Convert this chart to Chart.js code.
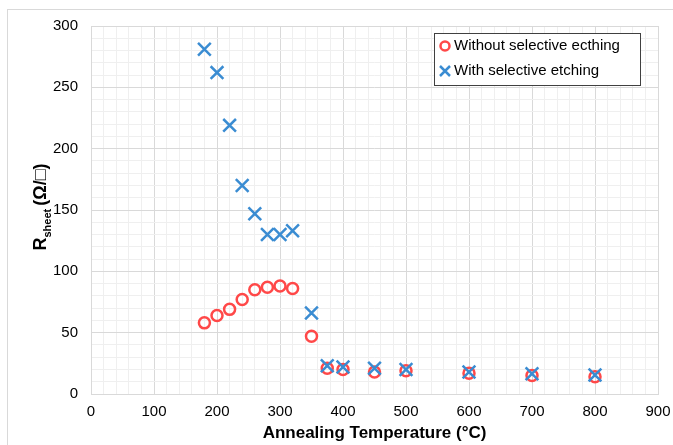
<!DOCTYPE html>
<html>
<head>
<meta charset="utf-8">
<script src="https://cdn.jsdelivr.net/npm/chart.js@4"></script>
<style>
  html, body { margin: 0; padding: 0; background: #fff; }
  #wrap { width: 673px; height: 445px; position: relative; }
</style>
</head>
<body>
<div id="wrap"><canvas id="chart" width="673" height="445"></canvas></div>
<script>
    'use strict';

    // annealing temperature (°C)
    var tempWithout = [180, 200, 220, 240, 260, 280, 300, 320, 350, 375, 400, 450, 500, 600, 700, 800];
    var rsheetWithout = [58, 64, 69, 77, 85, 87, 88, 86, 47, 21, 20, 18, 19, 17, 15, 14];

    var tempWith = [180, 200, 220, 240, 260, 280, 300, 320, 350, 375, 400, 450, 500, 600, 700, 800];
    var rsheetWith = [281, 262, 219, 170, 147, 130, 130, 133, 66, 23, 22, 21, 20, 18, 16.5, 15.5];

    var legendLabels = ['Without selective ecthing', 'With selective etching'];

    var red = 'rgb(255, 72, 72)';
    var blue = 'rgb(58, 140, 210)';
    var font = '"Liberation Sans", Arial, sans-serif';

    function toPoints(xs, ys) {
        return xs.map(function (x, i) { return { x: x, y: ys[i] }; });
    }

    var chartFrame = {
        id: 'chartFrame',
        beforeDraw: function (chart) {
            var ctx = chart.ctx;
            ctx.save();
            ctx.fillStyle = '#fff';
            ctx.fillRect(0, 0, chart.width, chart.height);
            ctx.strokeStyle = '#d9d9d9';
            ctx.lineWidth = 1;
            ctx.strokeRect(7.5, 9.5, chart.width + 10, chart.height + 10);
            ctx.restore();
        },
        afterDatasetsDraw: function (chart) {
            var ctx = chart.ctx;
            var a = chart.chartArea;
            ctx.save();
            // plot area border
            ctx.strokeStyle = '#d9d9d9';
            ctx.lineWidth = 1;
            ctx.strokeRect(Math.round(a.left) + 0.5, Math.round(a.top) + 0.5,
                Math.round(a.right - a.left), Math.round(a.bottom - a.top));

            // y axis title with subscript
            ctx.translate(46, 207);
            ctx.rotate(-Math.PI / 2);
            ctx.fillStyle = '#000';
            ctx.textBaseline = 'alphabetic';
            var big = 'bold 18px ' + font;
            var small = 'bold 11px ' + font;
            ctx.font = big;
            var w1 = ctx.measureText('R').width;
            var w3 = ctx.measureText('(Ω/□)').width;
            ctx.font = small;
            var w2 = ctx.measureText('sheet').width;
            var total = w1 + w2 + 3 + w3;
            var x = -total / 2;
            ctx.font = big;
            ctx.fillText('R', x, 0);
            x += w1;
            ctx.font = small;
            ctx.fillText('sheet', x, 5);
            x += w2 + 3;
            ctx.font = big;
            ctx.fillText('(Ω/□)', x, 0);
            ctx.restore();

            // legend box
            ctx.save();
            ctx.fillStyle = '#fff';
            ctx.fillRect(434.5, 33.5, 206, 52);
            ctx.strokeStyle = '#404040';
            ctx.lineWidth = 1;
            ctx.strokeRect(434.5, 33.5, 206, 52);
            ctx.font = '15px ' + font;
            ctx.fillStyle = '#000';
            ctx.textBaseline = 'middle';
            ctx.fillText(legendLabels[0], 454, 46);
            ctx.fillText(legendLabels[1], 454, 71);
            ctx.lineWidth = 2.5;
            ctx.strokeStyle = red;
            ctx.beginPath();
            ctx.arc(445, 46, 4.5, 0, Math.PI * 2);
            ctx.stroke();
            ctx.strokeStyle = blue;
            ctx.beginPath();
            ctx.moveTo(440, 66); ctx.lineTo(450, 76);
            ctx.moveTo(450, 66); ctx.lineTo(440, 76);
            ctx.stroke();
            ctx.restore();
        }
    };

    function gridColor(major) {
        return function (c) {
            return (c.tick && c.tick.value % major === 0) ? '#d9d9d9' : '#efefef';
        };
    }

    var ctx = document.getElementById('chart');
    var chart = new Chart(ctx, {
        type: 'scatter',
        data: {
            datasets: [
                {
                    label: legendLabels[1],
                    data: toPoints(tempWith, rsheetWith),
                    pointStyle: 'crossRot',
                    pointRadius: 9,
                    pointBorderWidth: 2.5,
                    borderColor: blue,
                    backgroundColor: blue,
                    order: 0
                },
                {
                    label: legendLabels[0],
                    data: toPoints(tempWithout, rsheetWithout),
                    pointStyle: 'circle',
                    pointRadius: 5.5,
                    pointBorderWidth: 2.5,
                    borderColor: red,
                    backgroundColor: 'rgba(255,255,255,0)',
                    order: 1
                }
            ]
        },
        options: {
            responsive: false,
            animation: false,
            layout: { padding: { left: 0, right: 15, top: 26, bottom: 0 } },
            plugins: {
                legend: { display: false },
                tooltip: { enabled: false }
            },
            scales: {
                x: {
                    type: 'linear',
                    min: 0,
                    max: 900,
                    afterFit: function (s) {
                        s.height = 51;
                        s.paddingRight = 0;
                        s.paddingLeft = 0;
                    },
                    border: { display: false },
                    grid: { color: gridColor(100), drawTicks: false },
                    ticks: {
                        stepSize: 20,
                        autoSkip: false,
                        maxRotation: 0,
                        padding: 9,
                        color: '#000',
                        font: { family: font, size: 15 },
                        callback: function (v) { return v % 100 === 0 ? v : ''; }
                    },
                    title: {
                        display: true,
                        text: 'Annealing Temperature (°C)',
                        color: '#000',
                        font: { family: font, size: 17, weight: 'bold' },
                        padding: { top: 0, bottom: 1 }
                    }
                },
                y: {
                    type: 'linear',
                    min: 0,
                    max: 300,
                    afterFit: function (s) { s.width = 91; },
                    border: { display: false },
                    grid: { color: gridColor(50), drawTicks: false },
                    ticks: {
                        stepSize: 10,
                        autoSkip: false,
                        padding: 13,
                        color: '#000',
                        font: { family: font, size: 15 },
                        callback: function (v) { return v % 50 === 0 ? v : ''; }
                    }
                }
            }
        },
        plugins: [chartFrame]
    });
</script>
</body>
</html>
